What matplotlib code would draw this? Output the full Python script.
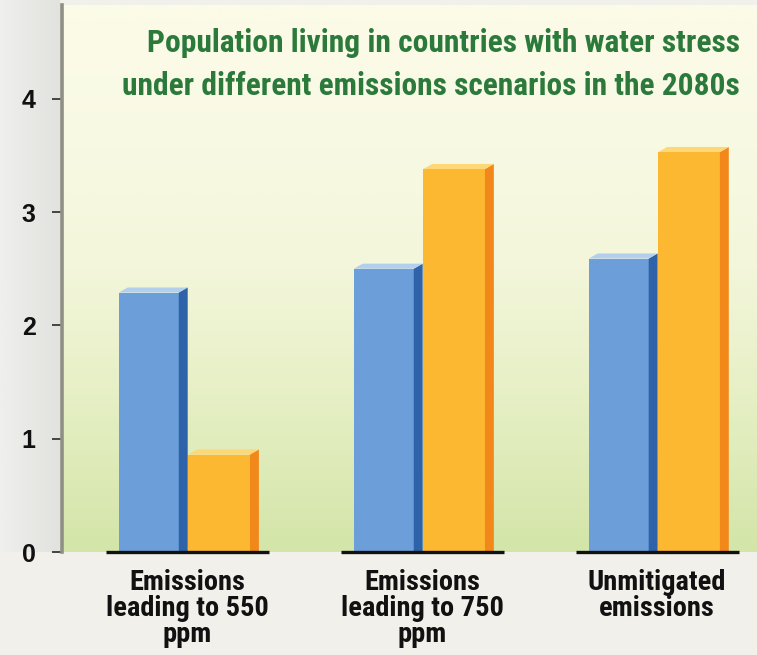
import numpy as np
import matplotlib
matplotlib.use("Agg")
import matplotlib.pyplot as plt
from matplotlib.patches import Polygon
from matplotlib.colors import LinearSegmentedColormap
from matplotlib import font_manager

# Data: population (billions) in water-stressed countries, 2080s
categories = ["Emissions\nleading to 550\nppm", "Emissions\nleading to 750\nppm", "Unmitigated\nemissions"]
series_a = [2.29, 2.50, 2.59]   # blue bars
series_b = [0.86, 3.38, 3.53]   # orange bars
yticks = [0, 1, 2, 3, 4]
title_lines = ["Population living in countries with water stress",
               "under different emissions scenarios in the 2080s"]

# pick a narrow sans face if one is installed
names = sorted({f.name for f in font_manager.fontManager.ttflist})
narrow = [n for n in names if ("Narrow" in n or "Condensed" in n)]
pref = [n for n in ["Liberation Sans Narrow", "Roboto Condensed", "Open Sans Condensed"] if n in names]
COND = (pref or narrow or ["Roboto"]) + ["DejaVu Sans"]
REG = ["Liberation Sans", "DejaVu Sans"]

W, H = 757, 655
fig = plt.figure(figsize=(W / 100, H / 100), dpi=100)
fig.patch.set_facecolor("#f1f0ea")
renderer = fig.canvas.get_renderer()

def fit_width(txt, target_px):
    bb = txt.get_window_extent(renderer)
    txt.set_fontsize(txt.get_fontsize() * target_px / bb.width)

# left grey strip
strip = fig.add_axes([0, 0.157, 60 / W, 1 - 0.157])
strip.imshow(np.linspace(0, 1, 50).reshape(1, -1), aspect="auto",
             cmap=LinearSegmentedColormap.from_list("s", ["#efefed", "#e2e2df"]),
             extent=[0, 1, 0, 1])
strip.axis("off")

ax = fig.add_axes([62 / W, (H - 552) / H, (W - 62) / W, (552 - 5) / H])
x0, x1 = -0.532, 2.426
y0, y1 = 0, (552 - 5) / 113.3

# background gradient: cream at the top, soft green at the bottom
t = np.linspace(0, 1, 256)
grad = t ** 1.5
cmap = LinearSegmentedColormap.from_list(
    "bg", ["#fbfbe8", "#f3f6da", "#e3eec0", "#d3e5a8"])
ax.imshow(grad.reshape(-1, 1), aspect="auto", cmap=cmap,
          extent=[x0, x1, y0, y1], zorder=0, origin="upper")
ax.set_xlim(x0, x1)
ax.set_ylim(y0, y1)

dx, dy = 0.038, 0.045
blue = ("#6c9fd9", "#2e63a9", "#b2d0ee")
orange = ("#fdb832", "#f2881a", "#fed776")

def bar3d(left, width, h, cols):
    front, side, top = cols
    ax.bar(left, h, width=width, align="edge", color=front, zorder=3, linewidth=0)
    ax.add_patch(Polygon([(left + width, 0), (left + width + dx, 0),
                          (left + width + dx, h + dy), (left + width, h)],
                         closed=True, color=side, lw=0, zorder=3))
    ax.add_patch(Polygon([(left, h), (left + width, h),
                          (left + width + dx, h + dy), (left + dx, h + dy)],
                         closed=True, color=top, lw=0, zorder=3))

for i, (a, b) in enumerate(zip(series_a, series_b)):
    bar3d(i - 0.29, 0.255, a, blue)
    bar3d(i + 0.006, 0.262, b, orange)
    ax.plot([i - 0.345, i + 0.35], [0, 0], color="#111111", lw=2.4,
            solid_capstyle="butt", zorder=4, clip_on=False)

# axes styling
for s in ["top", "right", "bottom"]:
    ax.spines[s].set_visible(False)
ax.spines["left"].set_color("#8f8f86")
ax.spines["left"].set_linewidth(2.6)
ax.set_xticks([])
ax.set_yticks(yticks)
ax.set_yticklabels([str(v) for v in yticks], family=REG, fontsize=18,
                   fontweight="bold", color="#111111")
ax.tick_params(axis="y", length=7, width=1.4, color="#444444", pad=12, direction="out")

# category labels below each group
labels = []
for i, lab in enumerate(categories):
    labels.append(ax.annotate(lab, xy=(i, 0), xycoords="data", xytext=(0, -12),
                              textcoords="offset points", ha="center", va="top",
                              family=COND, fontweight="bold", fontsize=18,
                              color="#111111", linespacing=0.95))
# size the labels so "leading to 550" spans about 163 px
probe = fig.text(0, 0, "leading to 550", family=COND, fontweight="bold", fontsize=18)
bb = probe.get_window_extent(renderer)
lab_fs = 18 * 163 / bb.width
probe.remove()
for t_ in labels:
    t_.set_fontsize(lab_fs)

# title, right-aligned in green
t1 = fig.text(740 / W, 1 - 52 / H, title_lines[0], ha="right", va="baseline",
              family=COND, fontweight="bold", fontsize=20, color="#2b7a3b")
t2 = fig.text(740 / W, 1 - 95 / H, title_lines[1], ha="right", va="baseline",
              family=COND, fontweight="bold", fontsize=20, color="#2b7a3b")
fit_width(t1, 592)
fit_width(t2, 613)

fig.savefig("out.png", dpi=100, facecolor=fig.get_facecolor())
